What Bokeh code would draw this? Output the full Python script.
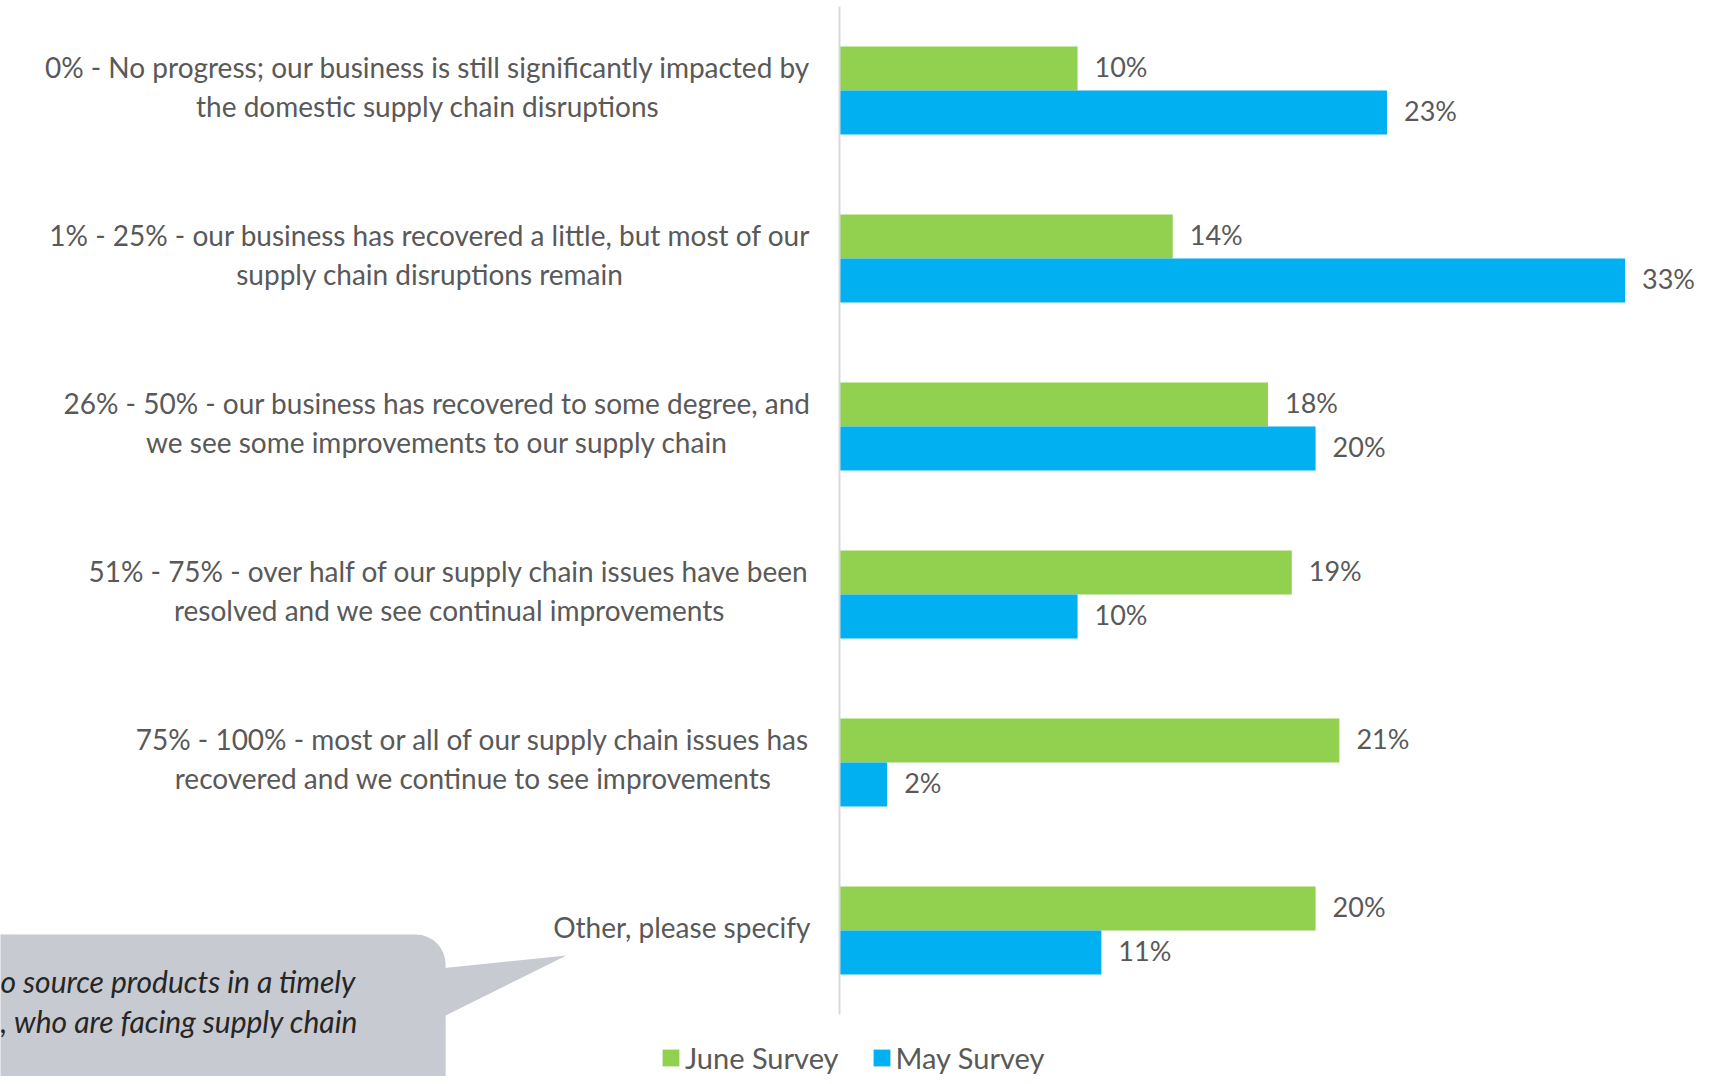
from bokeh.plotting import figure
from bokeh.models import (Range1d, ColumnDataSource, LabelSet, Label, Legend, LegendItem,
                          BoxAnnotation, PolyAnnotation)
from bokeh.transform import dodge
from bokeh.core.properties import value
from bokeh.embed import file_html
from bokeh.resources import INLINE

categories = [
    "0% - No progress; our business is still significantly impacted by\nthe domestic supply chain disruptions",
    "1% - 25% - our business has recovered a little, but most of our\nsupply chain disruptions remain",
    "26% - 50% - our business has recovered to some degree, and\nwe see some improvements to our supply chain",
    "51% - 75% - over half of our supply chain issues have been\nresolved and we see continual improvements",
    "75% - 100% - most or all of our supply chain issues has\nrecovered and we continue to see improvements",
    "Other, please specify",
]
june = [10, 14, 18, 19, 21, 20]
may = [23, 33, 20, 10, 2, 11]
series_names = ["June Survey", "May Survey"]
colors = ["#92D050", "#00B0F0"]
bubble_lines = ["o source products in a timely", ", who are facing supply chain"]

FONT = "Lato"
GREY = "#595959"

n = len(categories)
src = ColumnDataSource(dict(
    y=[i + 0.5 for i in range(n)],
    june=june, may=may,
    june_txt=[f"{v}%" for v in june],
    may_txt=[f"{v}%" for v in may],
))

p = figure(width=1714, height=1076, x_range=Range1d(-35.25, 36.76), y_range=Range1d(6.369, -0.036),
           output_backend="svg", toolbar_location=None,
           min_border_left=0, min_border_right=0, min_border_top=0, min_border_bottom=0)
p.outline_line_color = None
p.xgrid.visible = False
p.ygrid.visible = False
p.xaxis.visible = False
p.yaxis.fixed_location = 0
p.yaxis.bounds = (0, n)
p.yaxis.major_tick_line_color = None
p.yaxis.minor_tick_line_color = None
p.yaxis.major_label_text_font_size = "0px"
p.yaxis.axis_line_color = "#D9D9D9"
p.yaxis.axis_line_width = 2
p.yaxis.ticker = []

off = 0.131
bh = 0.262
gr = p.hbar(y=dodge("y", -off, range=p.y_range), left=0, right="june", height=bh,
            source=src, fill_color=colors[0], line_color=None)
br = p.hbar(y=dodge("y", off, range=p.y_range), left=0, right="may", height=bh,
            source=src, fill_color=colors[1], line_color=None)

for col, d in (("june_txt", -off), ("may_txt", off)):
    xcol = "june" if col == "june_txt" else "may"
    p.add_layout(LabelSet(x=xcol, y=dodge("y", d, range=p.y_range), text=col, source=src,
                          x_offset=17, y_offset=2, text_baseline="middle", text_align="left",
                          text_font=value(FONT), text_font_size="27px", text_color=GREY))

for i, cat in enumerate(categories):
    p.add_layout(Label(x=0, y=i + 0.5, x_offset=-29, y_offset=4, text=cat, anchor="center_right",
                       text_align="center", text_baseline="middle",
                       text_font=FONT, text_font_size="28px", text_color=GREY,
                       text_line_height=1.17))

# callout bubble
p.add_layout(BoxAnnotation(left=-40, right=-16.55, top=5.524, bottom=6.9, border_radius=30,
                           fill_color="#C7CAD1", fill_alpha=1, line_color=None))
p.add_layout(PolyAnnotation(xs=[-16.8, -11.47, -16.8], ys=[5.726, 5.649, 6.024],
                            fill_color="#C7CAD1", fill_alpha=1, line_color=None))
for j, t in enumerate(bubble_lines):
    p.add_layout(Label(x=-35.25, y=5.798 + 0.238 * j, text=t, text_align="left",
                       text_baseline="middle", text_font=FONT, text_font_style="italic",
                       text_font_size="30px", text_color="#262626"))

legend = Legend(items=[LegendItem(label=series_names[0], renderers=[gr]),
                       LegendItem(label=series_names[1], renderers=[br])],
                orientation="horizontal", location=(660, 1),
                glyph_width=21, glyph_height=21, label_height=21, label_standoff=4,
                spacing=32, padding=0, margin=0, border_line_color=None,
                background_fill_alpha=0, label_text_font=FONT, label_text_font_size="29px",
                label_text_color=GREY, label_text_baseline="middle")
p.add_layout(legend, "center")

open("out.html", "w").write(file_html(p, INLINE))
